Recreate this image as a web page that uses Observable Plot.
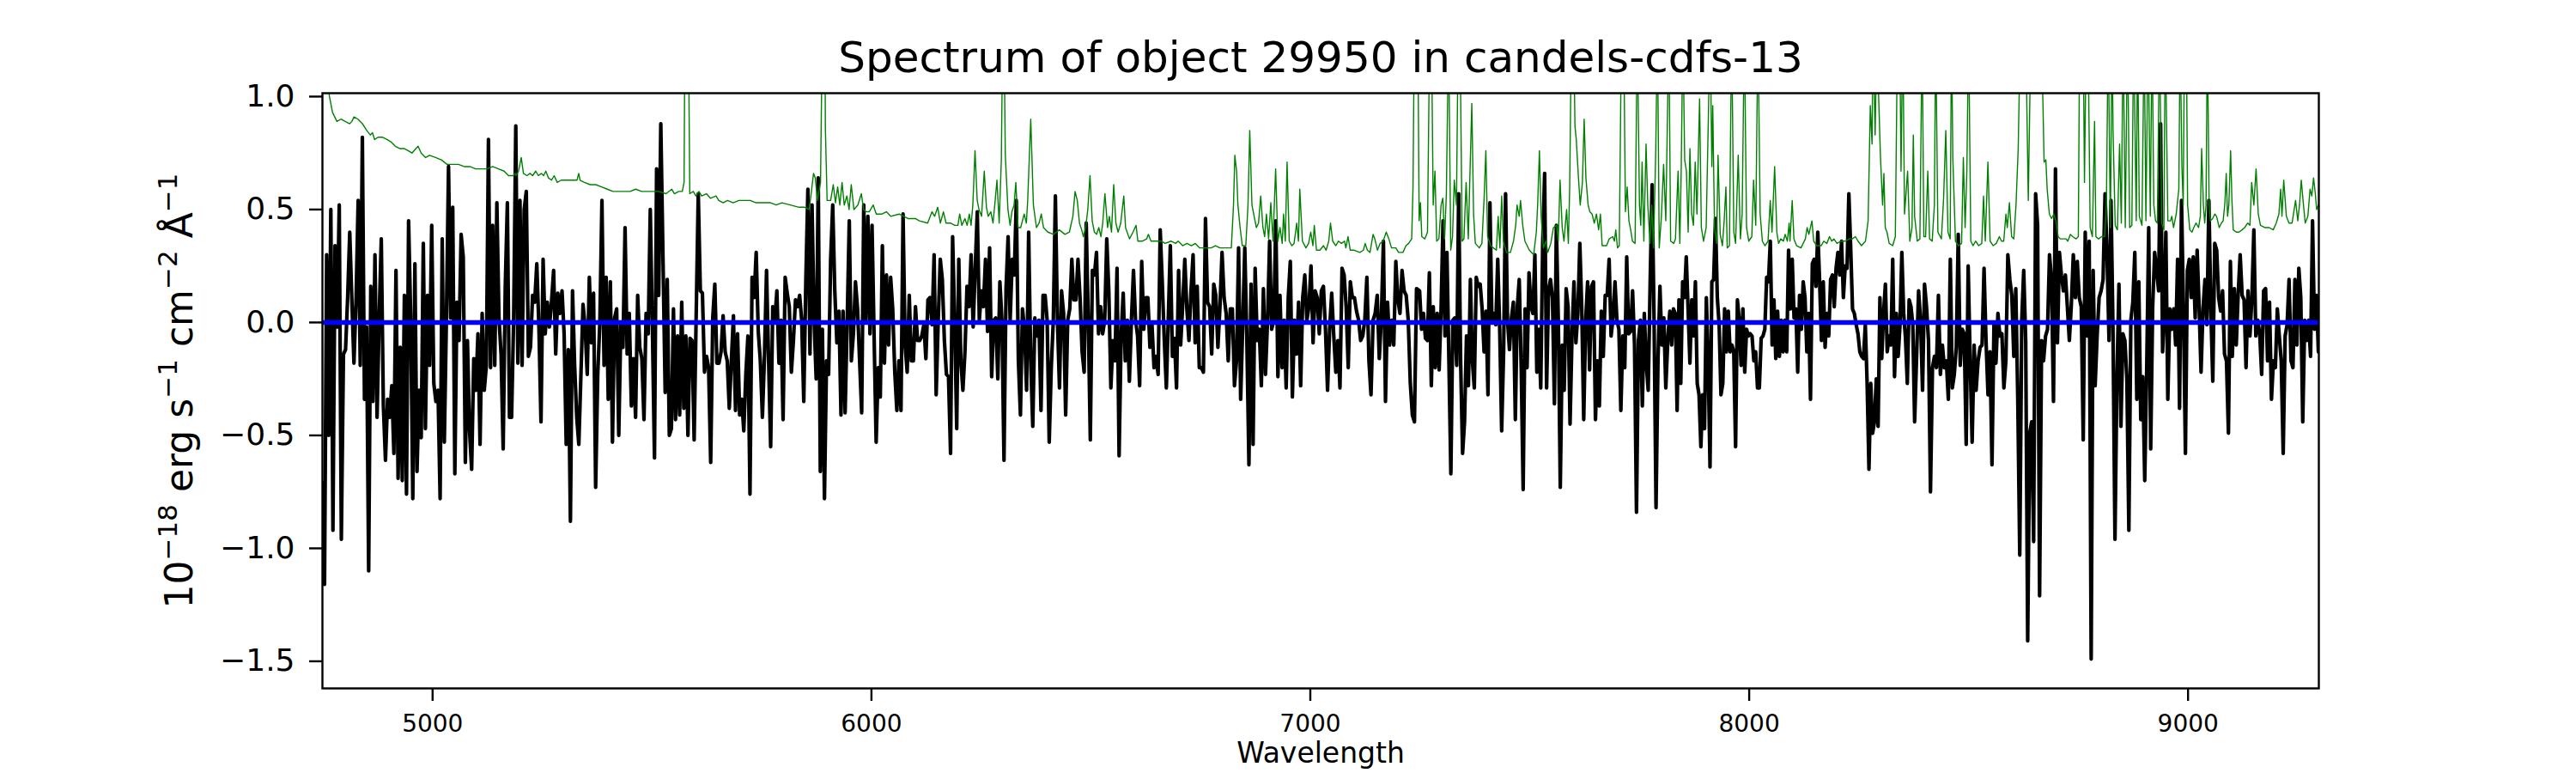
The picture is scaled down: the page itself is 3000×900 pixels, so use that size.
<!DOCTYPE html>
<html>
<head>
<meta charset="utf-8">
<script src="https://cdn.jsdelivr.net/npm/d3@7"></script>
<script src="https://cdn.jsdelivr.net/npm/@observablehq/plot@0.6"></script>
<style>
  html, body { margin: 0; padding: 0; background: white; }
  #chart svg { display: block; max-width: none; }
</style>
</head>
<body>
<div id="chart"></div>
<script>
// ---- tick labels ----
const xTicks = [5000, 6000, 7000, 8000, 9000];
const yTicks = [-1.5, -1.0, -0.5, 0.0, 0.5, 1.0];

// ---- observed spectrum (black), read in wavelength segments ----
const segStart = [4749, 5530, 6110, 6681, 7249, 7815, 8386, 8945];
const segEnd   = [5520, 6105, 6672, 7242, 7810, 8377, 8942, 9297];

const flux1 = [-0.71,-1.16,0.30,-0.50,0.50,-0.92,0.34,-0.02,0.52,-0.96,
-0.14,-0.12,0.11,0.40,0.10,-0.18,0.10,0.54,-0.19,0.82,
-0.34,-0.02,-1.10,0.16,-0.35,0.30,-0.42,0.02,0.37,-0.37,
-0.61,-0.34,-0.42,-0.28,-0.58,0.23,-0.69,-0.11,-0.70,0.12,
-0.76,0.45,0.02,-0.78,0.26,-0.66,-0.30,-0.51,0.35,-0.47,
0.12,-0.19,0.43,-0.27,-0.35,-0.30,-0.78,0.37,-0.53,0.02,
0.69,0.02,0.51,-0.67,0.09,-0.08,0.39,0.29,-0.62,-0.08,
-0.48,-0.65,-0.16,-0.30,-0.05,-0.54,0.04,-0.30,-0.19,0.81,
-0.20,0.43,-0.19,0.53,0.02,-0.14,-0.56,0.16,0.53,-0.42,
-0.42,0.02,0.87,-0.18,0.54,-0.19,0.50,0.58,-0.15,-0.11,
0.12,0.09,0.26,-0.02,-0.44,0.28,-0.05,0.09,-0.02,0.09,
0.23,-0.14,0.13,0.04,0.14,-0.05,-0.54,-0.12,-0.88,0.14,
-0.19,-0.42,-0.54,-0.23,0.08,-0.02,-0.23,0.20,-0.09,0.13,
-0.73,-0.23,0.00,0.54,-0.19,0.20,-0.34,0.18,-0.53,0.02,
0.06,-0.50,0.00,-0.11,0.42,-0.14,0.04,-0.37,-0.16,-0.42,
0.12,-0.11,-0.16,-0.43,0.04,-0.05,0.50,-0.02,-0.60,0.68,
0.12,0.88];

const flux2 = [-0.31,0.19,-0.50,-0.47,0.06,-0.43,-0.06,-0.41,0.09,-0.38,
-0.06,-0.50,-0.07,-0.08,-0.52,0.04,0.57,0.14,0.13,-0.22,
-0.15,-0.20,-0.62,0.02,0.17,-0.18,-0.18,-0.13,0.03,-0.13,
-0.17,-0.38,-0.17,0.03,-0.39,-0.05,-0.41,-0.34,-0.48,-0.23,
-0.06,-0.76,0.20,0.11,0.31,-0.04,-0.17,-0.42,-0.15,0.23,
-0.17,-0.55,0.07,0.01,0.14,-0.18,0.01,-0.43,0.20,0.13,
0.07,-0.22,-0.08,0.10,0.07,0.12,0.01,-0.35,0.19,0.59,
-0.14,0.52,0.01,-0.25,0.64,-0.66,-0.03,-0.78,-0.17,-0.23,
0.28,0.52,0.14,-0.09,0.05,-0.41,0.05,-0.40,0.01,0.45,
-0.17,-0.05,0.18,0.06,-0.17,-0.40,0.52,0.01,0.47,-0.05,
0.43,-0.06,-0.53,-0.20,-0.33,0.34,-0.18,0.21,-0.10,0.20,
0.06,-0.22,-0.39,-0.17,-0.39,0.48,-0.10,-0.22,0.12,-0.17,
-0.17,0.07,-0.08];

const flux3 = [-0.08,-0.06,-0.01,-0.16,0.10,0.11,-0.01,0.30,-0.32,0.01,
0.28,0.19,-0.08,-0.23,-0.24,-0.58,0.38,0.01,-0.47,0.28,
-0.17,-0.30,-0.13,0.16,0.07,0.30,-0.02,0.24,0.49,0.01,
0.14,0.07,0.28,-0.04,0.33,-0.24,0.01,0.02,-0.25,0.18,
0.01,-0.61,0.15,0.38,0.01,0.28,0.21,0.54,-0.17,-0.41,
0.06,-0.03,-0.30,0.40,-0.17,-0.46,0.02,-0.06,0.01,-0.39,
0.12,0.12,0.01,-0.53,-0.20,0.01,0.56,0.01,-0.29,0.14,
0.04,-0.41,0.01,0.06,0.28,0.10,0.10,0.28,0.11,-0.13,
-0.22,0.44,0.01,-0.52,0.23,0.21,0.31,-0.05,0.07,-0.05,
0.01,0.37,0.14,-0.29,-0.08,-0.17,0.24,-0.59,-0.06,0.13,
-0.17,0.01,-0.26,0.01,0.23,0.01,-0.06,-0.28,0.27,-0.03,
0.11,0.11,-0.11,-0.01,-0.20,-0.15,-0.23,0.41,0.18,-0.08,
-0.29];

const flux4 = [0.34,-0.15,-0.07,-0.29,0.23,-0.10,0.08,0.28,0.06,
-0.08,0.14,0.30,-0.09,0.16,-0.20,-0.20,-0.22,0.46,0.09,
0.07,-0.14,0.17,0.12,-0.11,0.07,0.31,0.11,0.04,-0.17,
0.06,0.06,-0.28,-0.17,0.33,-0.34,-0.01,0.33,-0.08,-0.63,
0.17,-0.54,0.24,-0.08,-0.03,-0.28,0.15,-0.23,0.01,0.36,
-0.03,0.01,0.45,-0.24,0.12,-0.20,0.01,-0.29,0.11,0.27,
-0.33,0.01,-0.14,0.09,-0.28,0.11,0.21,0.01,0.07,0.25,
-0.09,0.14,0.11,-0.05,0.14,0.16,-0.03,-0.30,-0.03,0.13,
-0.06,-0.22,-0.08,-0.29,0.24,0.21,0.07,-0.20,0.18,0.11,
0.11,0.05,0.01,-0.08,-0.06,0.01,0.20,-0.17,-0.32,0.01,
0.04,0.12,-0.16,0.02,0.36,-0.35,0.09,-0.10,0.01,-0.10,
0.27,0.10,0.04,0.23,0.14,0.12,0.01,-0.27,-0.41,-0.44,
0.15];

const flux5 = [0.14,-0.03,0.04,-0.07,-0.08,0.22,-0.28,0.07,-0.20,0.04,
-0.21,0.06,0.45,-0.06,0.31,-0.17,-0.67,0.01,0.02,-0.19,
0.57,-0.17,-0.58,-0.44,-0.06,-0.28,0.19,-0.17,-0.29,0.20,
0.16,0.17,0.06,-0.13,0.05,-0.32,0.53,0.01,0.04,-0.01,
0.28,-0.03,-0.48,-0.13,0.57,0.01,-0.12,0.02,0.09,-0.43,
0.07,0.19,-0.20,-0.74,0.06,-0.20,0.22,0.07,0.04,0.30,
-0.22,-0.03,-0.29,0.35,0.66,-0.29,0.14,0.19,0.11,-0.36,
0.43,0.01,-0.73,-0.10,-0.30,0.15,0.07,-0.45,-0.06,0.18,
-0.09,0.04,0.35,0.06,-0.43,0.01,0.18,-0.21,0.16,0.18,
-0.43,-0.17,-0.37,0.05,-0.15,0.12,0.12,0.28,-0.06,0.02,
0.18,0.01,-0.03,-0.39,-0.06,-0.20,0.29,-0.05,-0.04,0.14,
-0.10,-0.84,-0.08,0.01,-0.37,0.04,-0.18,-0.30,0.18,0.61,
0.01,-0.82,-0.17,0.16,-0.10,0.02,-0.29];

const flux6 = [-0.06,0.05,-0.10,0.06,0.04,-0.39,0.10,-0.27,0.18,0.11,
0.29,0.06,-0.18,0.10,-0.06,0.18,-0.27,-0.32,-0.55,-0.32,
-0.47,0.11,-0.17,-0.64,0.18,0.19,0.46,0.11,-0.01,-0.32,
-0.27,0.06,-0.13,0.05,-0.13,-0.10,-0.13,-0.55,0.10,0.01,
-0.19,0.06,-0.22,-0.03,-0.06,-0.05,-0.06,-0.17,-0.13,-0.29,
-0.29,-0.07,-0.06,-0.03,0.20,0.18,0.36,-0.10,0.10,-0.16,
0.05,-0.15,0.01,-0.13,0.01,-0.13,0.32,0.06,0.28,0.02,
0.06,-0.22,0.12,-0.03,0.18,0.11,-0.13,0.04,-0.34,0.26,
0.28,0.16,0.40,0.18,-0.08,0.18,-0.11,0.04,-0.06,0.19,
0.21,0.07,0.24,0.31,0.21,0.36,0.11,0.25,0.24,0.57,
0.33,0.06,0.04,-0.01,-0.05,-0.13,-0.15,-0.16,-0.01,-0.27,
-0.65,-0.27,-0.49,-0.44,-0.25,-0.46,0.11,-0.16,0.04,0.17,
-0.13,-0.06,-0.10,0.28,-0.24,0.04,-0.15,-0.01,0.31,0.04,
-0.07,-0.27,0.10,0.07,-0.01,-0.44];

const flux7 = [0.14,0.01,-0.30,0.17,0.07,-0.08,-0.75,-0.20,-0.15,-0.20,
0.12,-0.23,-0.10,-0.20,-0.17,-0.34,0.28,-0.29,-0.23,-0.11,
0.39,-0.19,-0.03,-0.05,-0.54,0.25,-0.17,-0.53,-0.10,-0.30,
-0.17,-0.11,-0.10,0.24,-0.08,-0.32,-0.13,-0.63,-0.01,-0.18,
0.04,-0.06,-0.05,-0.29,-0.17,0.30,0.19,0.12,-0.15,0.15,
-0.34,-1.03,0.01,0.23,-0.08,-1.41,-0.49,-0.44,-0.97,0.57,
0.43,-1.21,-0.08,-0.17,-0.06,-0.03,0.30,0.19,-0.35,0.68,
-0.09,0.31,0.21,0.14,0.21,0.07,-0.08,0.08,0.30,0.11,
0.27,0.11,0.07,-0.52,0.40,-0.06,0.36,-1.49,0.23,-0.28,
-0.06,0.11,0.14,0.19,0.57,0.30,-0.08,0.54,-0.03,-0.96,
-0.24,0.17,-0.46,-0.05,-0.08,-0.25,-0.92,0.01,0.09,0.31,
-0.34,0.18,-0.43,-0.24,-0.70,-0.20,0.42,-0.56,0.07,0.31,
0.23,0.14,0.88,-0.13];

const flux8 = [0.01,0.40,-0.34,0.06,-0.03,0.06,-0.10,0.28,-0.38,0.54,
0.06,-0.58,0.23,0.28,0.11,0.29,0.02,0.32,0.07,-0.22,
0.06,0.19,-0.01,0.54,0.06,-0.26,0.35,0.32,0.11,0.05,
0.14,-0.14,-0.17,-0.49,0.27,-0.15,0.15,-0.10,0.13,0.30,
0.12,0.10,-0.20,0.14,-0.06,0.11,0.41,-0.06,0.01,-0.05,
-0.23,0.14,0.15,-0.17,0.09,-0.34,-0.17,-0.20,0.06,-0.06,
-0.17,-0.58,-0.06,-0.01,0.19,-0.17,-0.20,0.19,-0.10,0.24,
0.11,-0.44,0.01,-0.08,0.01,-0.15,0.45,-0.03,0.12,-0.13];

// ---- noise / sky spectrum (green): [wavelength, value] ----
const skyPoints = [
[4749,1.25],[4765,1.0],[4772,0.93],[4782,0.89],[4791,0.90],[4801,0.89],[4811,0.88],[4816,0.89],[4821,0.91],[4830,0.90],
[4840,0.88],[4850,0.85],[4858,0.83],[4863,0.84],[4868,0.81],[4876,0.82],[4886,0.82],[4896,0.81],[4905,0.80],[4915,0.78],
[4925,0.77],[4935,0.77],[4945,0.76],[4953,0.75],[4962,0.77],[4967,0.78],[4974,0.75],[4984,0.73],[4993,0.74],[5007,0.73],
[5020,0.72],[5033,0.70],[5046,0.70],[5059,0.70],[5072,0.69],[5085,0.69],[5098,0.68],[5111,0.68],[5124,0.68],[5137,0.69],
[5150,0.68],[5163,0.67],[5173,0.65],[5179,0.65],[5184,0.65],[5188,0.66],[5190,0.65],[5196,0.67],[5202,0.73],[5207,0.66],
[5215,0.65],[5222,0.66],[5228,0.65],[5235,0.67],[5241,0.65],[5248,0.66],[5253,0.65],[5258,0.67],[5264,0.64],[5271,0.63],
[5277,0.65],[5284,0.62],[5293,0.63],[5306,0.63],[5320,0.63],[5329,0.63],[5333,0.66],[5336,0.63],[5346,0.62],[5359,0.61],
[5372,0.61],[5385,0.60],[5398,0.59],[5411,0.58],[5424,0.58],[5437,0.58],[5450,0.58],[5463,0.59],[5476,0.58],[5489,0.58],
[5502,0.58],[5515,0.58],[5532,0.57],[5545,0.59],[5551,0.57],[5561,0.58],[5569,0.58],[5573,0.62],[5575,1.3],[5583,1.3],
[5586,0.57],[5594,0.58],[5600,0.56],[5607,0.58],[5613,0.56],[5624,0.57],[5633,0.55],[5646,0.56],[5652,0.54],[5662,0.53],
[5672,0.54],[5685,0.53],[5698,0.54],[5711,0.54],[5724,0.54],[5737,0.53],[5750,0.53],[5770,0.53],[5783,0.52],[5796,0.53],
[5815,0.52],[5835,0.51],[5848,0.51],[5858,0.50],[5862,0.56],[5868,0.66],[5872,0.64],[5877,0.54],[5884,0.62],[5888,1.3],
[5894,1.3],[5895,0.86],[5899,0.54],[5907,0.54],[5913,0.61],[5918,0.53],[5923,0.60],[5928,0.52],[5933,0.62],[5938,0.52],
[5944,0.56],[5949,0.50],[5954,0.61],[5960,0.50],[5969,0.52],[5977,0.57],[5982,0.50],[5988,0.49],[5995,0.49],[6004,0.52],
[6011,0.48],[6024,0.48],[6034,0.49],[6044,0.47],[6063,0.48],[6083,0.46],[6100,0.46],
[6109,0.45],[6128,0.44],[6138,0.49],[6144,0.47],[6151,0.51],[6157,0.44],[6164,0.49],[6170,0.44],[6180,0.44],[6190,0.43],
[6197,0.43],[6201,0.48],[6206,0.43],[6213,0.46],[6218,0.43],[6223,0.48],[6227,0.43],[6231,0.52],[6236,0.76],[6241,0.54],
[6245,0.50],[6251,0.47],[6257,0.67],[6262,0.51],[6266,0.47],[6272,0.49],[6277,0.44],[6281,0.52],[6286,0.63],[6291,0.44],
[6296,0.72],[6299,1.3],[6302,1.3],[6305,0.74],[6311,0.50],[6316,0.43],[6320,0.49],[6325,0.52],[6329,0.62],[6334,0.42],
[6340,0.42],[6348,0.48],[6353,0.44],[6356,0.54],[6363,0.90],[6369,0.52],[6376,0.42],[6382,0.44],[6387,0.48],[6392,0.42],
[6402,0.40],[6415,0.39],[6428,0.41],[6441,0.39],[6451,0.40],[6459,0.47],[6464,0.58],[6469,0.54],[6474,0.44],[6479,0.41],
[6483,0.38],[6488,0.42],[6493,0.50],[6498,0.65],[6503,0.45],[6508,0.40],[6513,0.39],[6518,0.42],[6523,0.38],[6527,0.44],
[6532,0.57],[6538,0.42],[6542,0.47],[6547,0.40],[6552,0.61],[6557,0.44],[6562,0.40],[6568,0.44],[6575,0.56],[6579,0.42],
[6588,0.37],[6596,0.40],[6603,0.43],[6607,0.36],[6617,0.36],[6627,0.37],[6631,0.39],[6637,0.36],[6648,0.36],[6656,0.36],
[6661,0.36],[6669,0.35],[6683,0.36],[6693,0.35],[6699,0.36],[6709,0.34],[6719,0.35],[6729,0.34],[6738,0.35],[6748,0.33],
[6761,0.33],[6774,0.33],[6784,0.34],[6794,0.33],[6807,0.33],[6820,0.33],[6825,0.52],[6828,0.74],[6832,0.67],[6835,0.52],
[6840,0.42],[6845,0.34],[6853,0.34],[6858,0.52],[6862,0.85],[6867,0.52],[6872,0.47],[6877,0.42],[6882,0.44],[6887,0.56],
[6892,0.42],[6896,0.38],[6900,0.48],[6905,0.37],[6910,0.53],[6915,0.36],[6921,0.68],[6926,0.36],[6931,0.42],[6936,0.35],
[6939,0.48],[6943,0.36],[6947,0.71],[6952,0.36],[6958,0.34],[6963,0.35],[6969,0.44],[6973,0.36],[6976,0.59],[6982,0.36],
[6990,0.33],[6996,0.35],[7001,0.40],[7006,0.34],[7009,0.43],[7014,0.32],[7022,0.32],[7030,0.34],[7036,0.32],[7042,0.36],
[7046,0.44],[7051,0.36],[7058,0.34],[7064,0.36],[7071,0.35],[7078,0.36],[7081,0.33],[7086,0.38],[7091,0.32],[7100,0.32],
[7113,0.31],[7121,0.32],[7125,0.35],[7130,0.32],[7136,0.31],[7143,0.39],[7147,0.37],[7153,0.32],[7159,0.35],[7166,0.36],
[7173,0.40],[7179,0.37],[7185,0.33],[7195,0.33],[7201,0.31],[7211,0.31],[7218,0.34],[7224,0.35],[7231,0.37],[7234,0.60],
[7237,1.3],[7245,1.3],[7248,0.45],[7251,0.53],[7254,0.38],[7261,0.37],[7267,0.40],[7272,1.3],[7276,1.3],[7280,0.52],
[7284,0.67],[7288,0.36],[7293,0.37],[7298,0.52],[7302,0.55],[7306,0.37],[7310,0.57],[7315,1.3],[7320,0.32],[7324,0.38],
[7328,0.63],[7333,0.52],[7337,1.3],[7341,1.3],[7346,0.36],[7350,0.37],[7355,0.62],[7360,0.37],[7363,0.60],[7368,0.97],
[7372,0.48],[7376,0.35],[7385,0.33],[7391,0.35],[7396,0.55],[7400,0.76],[7404,0.38],[7411,0.34],[7417,0.33],[7424,0.32],
[7428,0.47],[7432,0.33],[7436,0.56],[7440,0.36],[7447,0.31],[7456,0.31],[7463,0.36],[7468,0.43],[7471,0.52],[7476,0.47],
[7479,0.54],[7484,0.43],[7489,0.36],[7494,0.34],[7499,0.32],[7509,0.30],[7515,0.40],[7518,0.52],[7522,0.76],[7526,0.47],
[7531,0.33],[7537,0.36],[7541,0.31],[7548,0.35],[7554,0.42],[7561,0.43],[7565,0.36],[7569,0.63],[7574,0.42],[7578,0.36],
[7584,0.50],[7588,0.35],[7591,0.60],[7595,1.3],[7600,1.3],[7603,0.87],[7606,0.81],[7611,0.64],[7615,0.52],[7620,0.62],
[7624,0.90],[7628,0.64],[7633,0.52],[7637,0.49],[7642,0.48],[7647,0.44],[7652,0.48],[7657,0.41],[7661,0.48],[7665,0.34],
[7675,0.34],[7681,0.37],[7689,0.38],[7693,0.36],[7696,0.41],[7700,0.33],[7704,0.34],[7709,1.3],[7714,1.3],[7718,0.49],
[7722,0.60],[7726,0.45],[7730,0.41],[7734,0.36],[7740,0.35],[7745,1.3],[7750,0.52],[7753,0.43],[7756,0.71],[7760,0.36],
[7765,0.79],[7769,0.52],[7774,0.35],[7778,0.52],[7782,0.33],[7787,0.75],[7791,1.3],[7795,0.33],[7800,0.47],[7805,0.70],
[7810,0.45],[7817,1.3],[7821,0.36],[7828,0.35],[7832,0.37],[7838,0.67],[7842,0.35],[7845,0.66],[7849,1.3],[7853,0.72],
[7857,0.67],[7861,0.40],[7865,0.77],[7869,0.48],[7873,0.43],[7877,0.71],[7881,0.48],[7887,0.99],[7891,0.42],[7896,0.36],
[7902,0.42],[7906,0.81],[7911,1.3],[7915,0.69],[7917,0.96],[7921,0.42],[7926,0.35],[7929,0.74],[7934,0.39],[7939,0.34],
[7943,0.45],[7947,0.60],[7950,0.33],[7955,0.34],[7960,1.3],[7965,0.40],[7969,0.35],[7975,0.74],[7980,0.37],[7984,0.48],
[7989,1.3],[7994,0.42],[7999,0.36],[8006,0.38],[8010,0.63],[8015,0.43],[8020,1.3],[8025,0.48],[8030,0.36],[8036,0.34],
[8043,0.36],[8048,0.54],[8052,0.40],[8058,0.69],[8063,0.40],[8067,0.35],[8072,0.37],[8078,0.36],[8082,0.39],[8087,0.36],
[8091,0.44],[8093,0.36],[8098,0.54],[8102,0.37],[8108,0.34],[8118,0.33],[8128,0.37],[8132,0.42],[8136,0.39],[8143,0.45],
[8147,0.36],[8154,0.34],[8164,0.34],[8170,0.36],[8177,0.35],[8183,0.38],[8188,0.36],[8193,0.37],[8200,0.35],[8209,0.36],
[8219,0.36],[8228,0.37],[8235,0.37],[8242,0.38],[8248,0.36],[8256,0.34],[8265,0.36],[8271,0.45],[8276,0.96],[8280,0.79],
[8282,1.3],[8287,0.83],[8291,1.3],[8295,1.0],[8299,0.74],[8304,0.52],[8307,0.66],[8310,0.42],[8314,0.40],[8319,0.35],
[8327,0.34],[8333,0.38],[8338,1.3],[8343,1.3],[8346,0.67],[8350,1.3],[8354,0.48],[8361,0.67],[8366,0.36],[8371,0.42],
[8374,0.83],[8377,0.47],[8383,0.36],[8389,0.37],[8394,1.3],[8398,0.38],[8402,0.38],[8407,0.67],[8411,0.37],[8417,0.36],
[8422,0.52],[8425,1.3],[8430,0.40],[8438,0.37],[8443,0.55],[8448,0.85],[8453,0.40],[8458,0.37],[8461,1.3],[8464,0.73],
[8470,0.36],[8477,0.34],[8484,0.35],[8488,0.73],[8492,0.42],[8496,0.67],[8500,1.3],[8505,0.36],[8510,0.34],[8516,0.36],
[8523,0.34],[8530,0.35],[8534,0.56],[8538,0.36],[8544,0.71],[8549,0.36],[8556,0.34],[8563,0.35],[8570,0.38],[8575,0.36],
[8580,0.36],[8585,0.48],[8588,0.42],[8593,0.53],[8598,0.38],[8603,0.37],[8608,0.52],[8613,0.77],[8618,1.3],[8630,1.3],
[8636,0.54],[8642,1.3],[8660,1.3],[8666,1.3],[8672,0.71],[8676,0.72],[8679,0.59],[8684,0.48],[8689,0.46],[8694,0.48],
[8699,0.45],[8704,0.38],[8709,0.37],[8715,0.37],[8722,0.37],[8726,0.36],[8732,0.39],[8737,0.38],[8745,0.37],[8750,0.38],
[8753,1.3],[8761,1.3],[8764,0.62],[8768,1.3],[8772,1.3],[8777,0.42],[8782,0.38],[8787,0.89],[8790,0.38],[8796,0.37],
[8803,0.38],[8810,0.38],[8814,0.52],[8818,1.3],[8823,0.42],[8827,1.3],[8829,0.86],[8834,0.43],[8839,0.41],[8844,0.79],
[8848,0.44],[8852,1.3],[8857,0.42],[8862,1.3],[8867,0.42],[8872,0.43],[8876,1.3],[8882,0.45],[8885,1.3],[8889,0.47],
[8895,0.43],[8900,1.3],[8904,0.45],[8909,1.3],[8914,0.47],[8918,1.3],[8922,0.52],[8926,0.45],[8930,0.44],[8935,1.3],
[8940,0.44],[8945,0.41],[8948,1.3],[8954,0.45],[8960,0.45],[8963,0.47],[8967,0.42],[8973,0.48],[8979,0.59],[8982,1.3],
[8986,0.69],[8989,0.52],[8992,1.3],[8996,1.3],[8999,0.52],[9004,0.41],[9009,0.40],[9013,0.42],[9018,0.44],[9024,0.42],
[9028,0.47],[9031,0.77],[9035,0.52],[9038,0.44],[9041,0.52],[9044,1.3],[9048,0.52],[9051,0.45],[9056,0.46],[9061,0.48],
[9065,0.47],[9071,0.42],[9076,0.44],[9080,0.45],[9084,0.53],[9087,0.66],[9090,0.47],[9093,0.52],[9097,0.76],[9100,0.54],
[9103,0.41],[9110,0.40],[9116,0.40],[9123,0.41],[9129,0.42],[9136,0.44],[9141,0.43],[9145,0.62],[9150,0.52],[9155,0.68],
[9160,0.48],[9165,0.43],[9175,0.42],[9185,0.42],[9194,0.41],[9201,0.44],[9207,0.48],[9211,0.59],[9214,0.47],[9218,0.63],
[9224,0.47],[9230,0.44],[9237,0.44],[9241,0.49],[9245,0.54],[9250,0.45],[9254,0.52],[9258,0.63],[9263,0.52],[9267,0.44],
[9273,0.47],[9278,0.59],[9282,0.56],[9286,0.64],[9290,0.57],[9293,0.50],[9297,0.52]
];

// ---- build tables ----
const fluxSegs = [flux1, flux2, flux3, flux4, flux5, flux6, flux7, flux8];
const spectrum = [];
fluxSegs.forEach((seg, k) => {
  const n = seg.length;
  seg.forEach((f, i) => {
    spectrum.push({w: segStart[k] + (segEnd[k] - segStart[k]) * i / (n - 1), f});
  });
});
const sky = skyPoints.map(([w, f]) => ({w, f}));

const chart = Plot.plot({
  width: 3000,
  height: 900,
  marginLeft: 375,
  marginRight: 300,
  marginTop: 108,
  marginBottom: 99,
  style: {fontFamily: "DejaVu Sans", background: "white", color: "black", overflow: "visible"},
  x: {domain: [4749, 9298]},
  y: {domain: [-1.62, 1.015]},
  marks: [
    Plot.line(spectrum, {x: "w", y: "f", stroke: "black", strokeWidth: 4.2, clip: true}),
    Plot.line(sky, {x: "w", y: "f", stroke: "#008000", strokeWidth: 1.4, clip: true}),
    Plot.ruleY([0], {stroke: "#0000ff", strokeWidth: 5.5}),
    Plot.frame({stroke: "black", strokeWidth: 2.4}),
    Plot.axisX({ticks: xTicks, tickSize: 15, tickPadding: 16, fontSize: 28, tickFormat: d3.format("d"), label: null, strokeWidth: 2.4}),
    Plot.axisY({ticks: yTicks, tickSize: 15, tickPadding: 17, fontSize: 36, tickFormat: d3.format(".1f"), label: null, strokeWidth: 2.4}),
    Plot.text(["Spectrum of object 29950 in candels-cdfs-13"], {text: d => d, frameAnchor: "top", dy: -25, lineAnchor: "bottom", fontSize: 50}),
    Plot.text(["Wavelength"], {text: d => d, frameAnchor: "bottom", dy: 86, lineAnchor: "bottom", fontSize: 33}),
    Plot.text(["YLABEL"], {text: d => d, frameAnchor: "left", dx: -152, rotate: -90, lineAnchor: "bottom", textAnchor: "middle", fontSize: 44})
  ]
});

// superscripted y label
d3.select(chart).selectAll("text").filter(function() { return this.textContent === "YLABEL"; }).each(function() {
  const t = d3.select(this);
  t.text("");
  const parts = [["10", 0], ["\u221218", 1], [" erg s", 0], ["\u22121", 1], [" cm", 0], ["\u22122", 1], [" \u00C5", 0], ["\u22121", 1]];
  let up = false;
  parts.forEach(([s, sup]) => {
    const ts = t.append("tspan").text(s);
    if (sup) { ts.attr("font-size", 31).attr("dy", -18); up = true; }
    else if (up) { ts.attr("dy", 18); up = false; }
  });
});

document.getElementById("chart").appendChild(chart);
</script>
</body>
</html>
